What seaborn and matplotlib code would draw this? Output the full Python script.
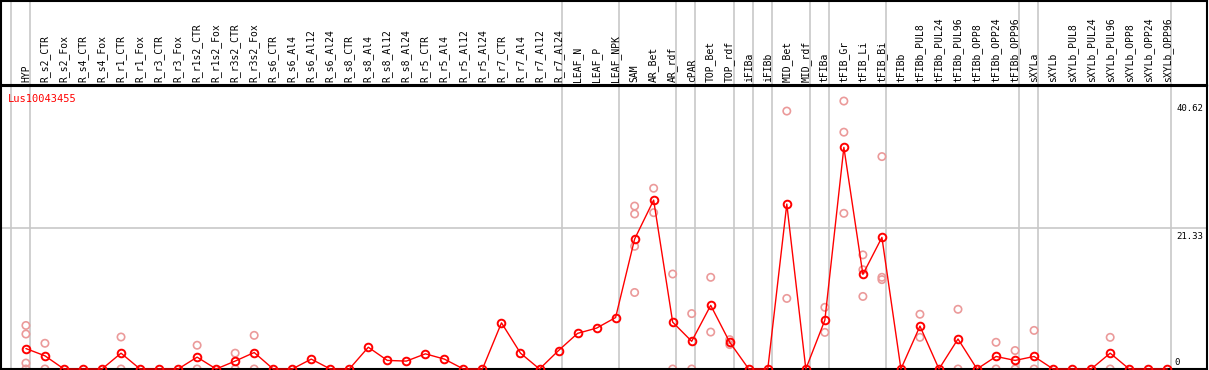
import numpy as np
import pandas as pd
import seaborn as sns
import matplotlib.pyplot as plt

# ---------------------------
# Data
# ---------------------------
gene = "Lus10043455"

samples = [
    "HYP", "R_s2_CTR", "R_s2_Fox", "R_s4_CTR", "R_s4_Fox", "R_r1_CTR", "R_r1_Fox",
    "R_r3_CTR", "R_r3_Fox", "R_r1s2_CTR", "R_r1s2_Fox", "R_r3s2_CTR", "R_r3s2_Fox",
    "R_s6_CTR", "R_s6_Al4", "R_s6_Al12", "R_s6_Al24", "R_s8_CTR", "R_s8_Al4",
    "R_s8_Al12", "R_s8_Al24", "R_r5_CTR", "R_r5_Al4", "R_r5_Al12", "R_r5_Al24",
    "R_r7_CTR", "R_r7_Al4", "R_r7_Al12", "R_r7_Al24", "LEAF_N", "LEAF_P", "LEAF_NPK",
    "SAM", "AR_Bet", "AR_rdf", "cPAR", "TOP_Bet", "TOP_rdf", "iFIBa", "iFIBb",
    "MID_Bet", "MID_rdf", "tFIBa", "tFIB_Gr", "tFIB_Li", "tFIB_Bi", "tFIBb",
    "tFIBb_PUL8", "tFIBb_PUL24", "tFIBb_PUL96", "tFIBb_OPP8", "tFIBb_OPP24",
    "tFIBb_OPP96", "sXYLa", "sXYLb", "sXYLb_PUL8", "sXYLb_PUL24", "sXYLb_PUL96",
    "sXYLb_OPP8", "sXYLb_OPP24", "sXYLb_OPP96",
]

means = [
    3.1, 2.0, 0, 0, 0, 2.4, 0, 0, 0, 1.8, 0, 1.2, 2.5,
    0, 0, 1.5, 0, 0, 3.3, 1.3, 1.2, 2.3, 1.5, 0, 0,
    7.0, 2.4, 0, 2.8, 5.4, 6.2, 7.8,
    19.7, 25.6, 7.1, 4.2, 9.65, 4.05, 0, 0,
    25.0, 0, 7.4, 33.6, 14.35, 19.95, 0,
    6.5, 0, 4.55, 0, 1.9, 1.3, 1.9, 0, 0, 0, 2.4, 0, 0, 0,
]

# replicate values: sample name -> list of reps
replicates = {
    "HYP": [6.6, 5.3, 0.9, 0],
    "R_s2_CTR": [3.9, 0],
    "R_r1_CTR": [4.85, 0],
    "R_r1s2_CTR": [3.6, 0],
    "R_r3s2_CTR": [2.4, 0],
    "R_r3s2_Fox": [5.1, 0],
    "SAM": [24.7, 23.5, 18.6, 11.6],
    "AR_Bet": [27.4, 23.7],
    "AR_rdf": [14.4, 0],
    "cPAR": [8.4, 0],
    "TOP_Bet": [13.9, 5.6],
    "TOP_rdf": [4.45, 3.7],
    "MID_Bet": [39.1, 10.7],
    "tFIBa": [9.35, 5.55],
    "tFIB_Gr": [40.62, 35.9, 23.6],
    "tFIB_Li": [17.3, 15.05, 11.0],
    "tFIB_Bi": [32.2, 13.9, 13.55],
    "tFIBb_PUL8": [8.3, 4.8],
    "tFIBb_PUL96": [9.05, 0],
    "tFIBb_OPP24": [4.05, 0],
    "tFIBb_OPP96": [2.8, 0],
    "sXYLa": [5.85, 0],
    "sXYLb_PUL96": [4.8, 0],
}

# last sample of each tissue group (gray separators)
group_ends = ["HYP", "R_r7_Al24", "LEAF_NPK", "AR_rdf", "cPAR", "TOP_rdf", "iFIBa",
              "iFIBb", "MID_rdf", "tFIBa", "tFIB_Bi", "tFIBb_OPP96", "sXYLa", "sXYLb_OPP96"]

y_ticks = [0, 21.33, 40.62]

# ---------------------------
# Tables
# ---------------------------
df = pd.DataFrame({"sample": samples, "mean": means})
df["pos"] = np.arange(len(samples))

rep_rows = [(s, v) for s, vals in replicates.items() for v in vals]
reps = pd.DataFrame(rep_rows, columns=["sample", "value"])
reps["pos"] = reps["sample"].map(dict(zip(samples, range(len(samples)))))

sep_pos = [-1] + [samples.index(s) for s in group_ends]
sep_pos = [p + 0.2 for p in sep_pos]

# ---------------------------
# Figure
# ---------------------------
sns.set_style("white")
plt.rcParams["font.family"] = ["DejaVu Sans Mono", "DejaVu Sans"]

W, H = 1209, 370
fig = plt.figure(figsize=(W / 100, H / 100), dpi=100)
xlim = (-1.31, 62.09)
ylim = (0, 42.9)

ax = fig.add_axes([1 / W, 1 / H, 1206 / W, 283 / H])
hdr = fig.add_axes([1 / W, 285 / H, 1206 / W, 84 / H])

for a in (ax, hdr):
    a.set_xlim(*xlim)
    a.set_xticks([])
    a.set_yticks([])
    for sp in a.spines.values():
        sp.set_color("black")
        sp.set_linewidth(1.5)
    for p in sep_pos:
        a.axvline(p, color="#c8c8c8", lw=1.2, zorder=0)

hdr.set_ylim(0, 1)
for i, s in enumerate(samples):
    hdr.text(i, 0.03, s, rotation=90, ha="center", va="bottom", fontsize=7, color="black")

ax.set_ylim(*ylim)
ax.axhline(y_ticks[1], color="#c8c8c8", lw=1.2, zorder=0)

sns.scatterplot(data=reps, x="pos", y="value", ax=ax, marker="o", s=28,
                facecolor="none", edgecolor="#eb9a9a", linewidth=1.2,
                clip_on=False, zorder=2, legend=False)
sns.lineplot(data=df, x="pos", y="mean", ax=ax, color="red", lw=1.0,
             marker="o", markersize=5.5, markerfacecolor="none",
             markeredgecolor="red", markeredgewidth=1.4, clip_on=False,
             zorder=3, legend=False)
ax.set_xlabel("")
ax.set_ylabel("")
ax.set_xlim(*xlim)
ax.set_ylim(*ylim)

ax.text(0.006, 0.955, gene, transform=ax.transAxes, color="red", fontsize=7.5,
        ha="left", va="center")
ytr = ax.get_yaxis_transform()
for v in y_ticks[1:]:
    ax.text(0.997, v - 0.5, f"{v:.2f}", ha="right", va="top", fontsize=6.5,
            color="black", transform=ytr)
ax.text(0.977, 0.35, "0", ha="right", va="bottom", fontsize=6.5, color="black",
        transform=ytr)

fig.savefig("out.png", dpi=100)
